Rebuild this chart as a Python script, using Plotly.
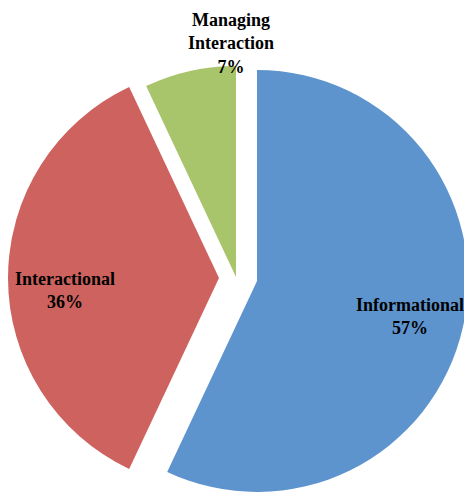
import plotly.graph_objects as go

labels = ["Informational", "Interactional", "Managing Interaction"]
label_lines = ["Informational", "Interactional", "Managing<br>Interaction"]
values = [57, 36, 7]
colors = ["#5E94CE", "#CD625E", "#A8C56C"]

W, H = 472, 498
R = 211
# exploded slice centres (pixels from top-left of the figure)
centers = [(249, 273), (211, 270), (228, 269)]
# label anchors (pixels) and vertical anchor
label_pos = [(402, 308, "middle"), (57, 282, "middle"), (223, 0, "top")]

font = dict(family="Liberation Serif, Times New Roman, serif", size=18, color="black")

fig = go.Figure()
for i, (cx, cy) in enumerate(centers):
    slice_colors = [colors[j] if j == i else "rgba(0,0,0,0)" for j in range(len(values))]
    fig.add_trace(go.Pie(
        labels=labels,
        values=values,
        sort=False,
        direction="clockwise",
        rotation=0,
        marker=dict(colors=slice_colors, line=dict(width=0)),
        textinfo="none",
        showlegend=False,
        hoverinfo="label+percent",
        domain=dict(
            x=[(cx - R) / W, (cx + R) / W],
            y=[(H - cy - R) / H, (H - cy + R) / H],
        ),
    ))

total = sum(values)
for name, v, (lx, ly, anchor) in zip(label_lines, values, label_pos):
    pct = round(100 * v / total)
    fig.add_annotation(
        text=f"<b>{name}<br>{pct}%</b>",
        x=lx / W, y=1 - ly / H,
        xref="paper", yref="paper",
        xanchor="center", yanchor=anchor,
        showarrow=False,
        font=font,
    )

fig.update_layout(
    width=W,
    height=H,
    margin=dict(l=0, r=0, t=0, b=0),
    paper_bgcolor="white",
    plot_bgcolor="white",
)

fig.write_html("out.html")
